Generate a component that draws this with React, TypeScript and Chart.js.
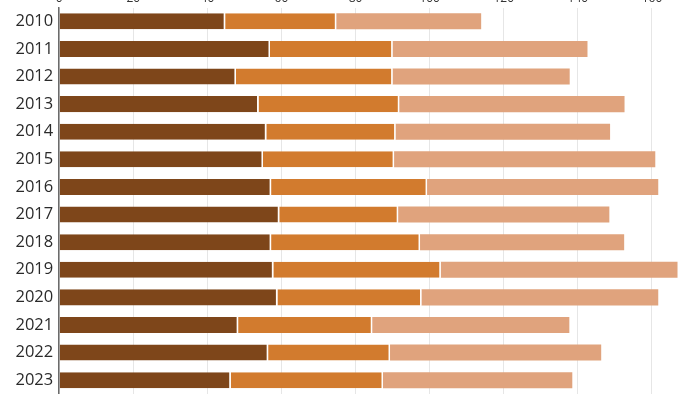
import React, { useEffect, useRef } from "react";
import { Chart, registerables } from "chart.js";

Chart.register(...registerables);

const years = ["2010", "2011", "2012", "2013", "2014", "2015", "2016", "2017", "2018", "2019", "2020", "2021", "2022", "2023"];
const seriesA = [44.8, 56.9, 47.7, 53.8, 55.9, 55.0, 57.2, 59.4, 57.2, 57.8, 58.9, 48.3, 56.4, 46.3];
const seriesB = [30.0, 33.1, 42.3, 38.0, 34.9, 35.4, 42.1, 32.1, 40.2, 45.2, 38.9, 36.2, 32.9, 41.1];
const seriesC = [39.1, 52.6, 47.8, 60.8, 57.9, 70.5, 62.4, 57.0, 55.1, 63.9, 63.9, 53.2, 57.0, 51.1];
const xTicks = [0, 20, 40, 60, 80, 100, 120, 140, 160];

export default function App() {
  const ref = useRef<HTMLCanvasElement | null>(null);

  useEffect(() => {
    document.body.style.margin = "0";
    const canvas = ref.current;
    if (!canvas) return;
    const chart = new Chart(canvas, {
      type: "bar",
      data: {
        labels: years,
        datasets: [
          {
            label: "A",
            data: seriesA,
            backgroundColor: "#7e461a",
            borderColor: "#ffffff",
            borderWidth: { left: 0, right: 1.5, top: 0, bottom: 0 },
            borderSkipped: false,
          },
          {
            label: "B",
            data: seriesB,
            backgroundColor: "#d27b2e",
            borderColor: "#ffffff",
            borderWidth: { left: 0, right: 1.5, top: 0, bottom: 0 },
            borderSkipped: false,
          },
          {
            label: "C",
            data: seriesC,
            backgroundColor: "#e0a37d",
            borderWidth: 0,
          },
        ],
      },
      options: {
        indexAxis: "y",
        responsive: true,
        maintainAspectRatio: false,
        animation: false,
        layout: { padding: { left: 0, right: 11, top: 0, bottom: 0 } },
        datasets: {
          bar: { barPercentage: 0.58, categoryPercentage: 1 },
        },
        plugins: {
          legend: { display: false },
          tooltip: { enabled: false },
        },
        scales: {
          x: {
            position: "top",
            stacked: true,
            min: 0,
            max: 170,
            afterBuildTicks: (s: any) => {
              s.ticks = xTicks.map((v) => ({ value: v }));
            },
            afterFit: (s: any) => {
              s.height = 17.5;
              s.paddingLeft = 0;
              s.paddingRight = 0;
            },
            grid: { color: "#e6e6e6", lineWidth: 1, drawTicks: false },
            border: { display: false },
            ticks: {
              padding: 2,
              color: "#333333",
              font: { family: "'Open Sans', sans-serif", size: 12 },
            },
          },
          y: {
            stacked: true,
            afterFit: (s: any) => {
              s.width = 59.2;
              s.paddingTop = 0;
              s.paddingBottom = 0;
            },
            grid: { display: false, drawTicks: false },
            border: { display: true, color: "#6b6b6b", width: 1.5 },
            ticks: {
              padding: 6,
              color: "#2a2a2a",
              font: { family: "'Open Sans', sans-serif", size: 16.5 },
            },
          },
        },
      },
    });
    return () => chart.destroy();
  }, []);

  return (
    <div style={{ width: 700, height: 394, overflow: "hidden", position: "relative", background: "#fff" }}>
      <div style={{ position: "absolute", top: -10, left: 0, width: 700, height: 404 }}>
        <canvas ref={ref} />
      </div>
    </div>
  );
}
